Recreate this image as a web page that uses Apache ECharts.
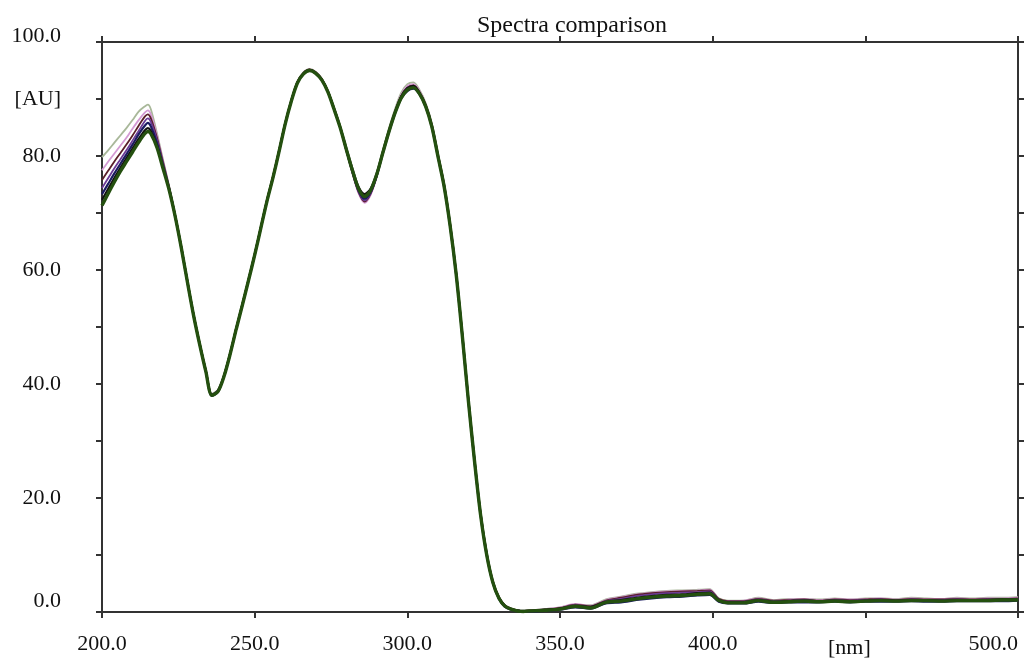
<!DOCTYPE html>
<html>
<head>
<meta charset="utf-8">
<script src="https://cdn.jsdelivr.net/npm/echarts@6/dist/echarts.min.js"></script>
<style>
html,body{margin:0;padding:0;background:#fff;}
#chart{width:1024px;height:659px;}
</style>
</head>
<body>
<div id="chart"></div>
<script>
// Wavelengths [nm]
const wavelengths = [200,202,204,206,208,210,212,214,215,216,218,220,222,
224,226,228,230,232,234,236,238,240,242,244,246,248,250,252,254,256,258,260,262,264,266,268,270,272,274,276,278,280,282,284,286,288,290,292,294,296,298,300,302,304,306,308,310,312,314,316,318,320,322,324,326,328,330,332,334,336,338,340,
345,350,355,360,365,370,375,380,385,390,395,399,402,405,410,415,420,425,430,435,440,445,450,455,460,465,470,475,480,485,490,495,500];

// Absorbance [AU] of each spectrum
const specGreen = [71.3,73.4,75.4,77.3,79.0,80.7,82.4,83.9,84.3,83.9,81.5,77.8,74.0,
69.3,63.8,57.8,52.0,46.9,42.2,38.0,38.7,41.4,45.3,49.7,53.9,58.2,62.6,67.3,72.0,76.2,80.8,85.6,89.6,92.8,94.4,95.0,94.5,93.3,91.2,88.2,85.0,81.2,77.5,74.3,72.9,74.0,76.8,80.6,84.3,87.6,90.2,91.6,92.0,90.9,88.7,85.2,80.0,74.8,67.8,59.2,48.5,37.0,26.5,17.0,10.0,5.2,2.4,1.0,0.5,0.2,0.1,0.2,
0.3,0.5,1.0,0.7,1.7,1.9,2.3,2.6,2.8,2.9,3.1,3.2,2.0,1.6,1.6,2.0,1.7,1.8,1.9,1.8,1.9,1.8,1.9,2.0,1.9,2.0,2.0,1.9,2.0,2.0,2.0,2.1,2.1];

const specBlack = [72.3,74.2,76.1,77.9,79.6,81.3,83.0,84.5,84.9,84.4,81.8,78.0,74.1,
69.4,63.9,57.9,52.1,47.0,42.3,38.1,38.8,41.5,45.4,49.8,54.0,58.3,62.7,67.4,72.1,76.3,80.9,85.7,89.7,92.9,94.5,95.1,94.6,93.4,91.3,88.3,85.1,81.4,77.8,74.6,73.3,74.3,77.0,80.8,84.5,87.8,90.5,91.9,92.3,91.1,88.9,85.4,80.2,75.0,68.0,59.4,48.7,37.2,26.7,17.2,10.2,5.3,2.5,1.1,0.5,0.3,0.2,0.2,
0.4,0.6,1.1,0.9,1.8,2.1,2.5,2.8,3.0,3.1,3.3,3.4,2.1,1.7,1.7,2.1,1.8,1.9,2.0,1.9,2.0,1.9,2.0,2.1,2.0,2.1,2.1,2.0,2.1,2.1,2.1,2.2,2.2];

const specNavy = [73.3,75.1,76.9,78.6,80.3,82.0,83.8,85.3,85.8,85.2,82.3,78.3,74.2,
69.3,63.8,57.8,52.0,46.9,42.2,37.9,38.6,41.4,45.3,49.7,53.9,58.2,62.6,67.3,72.0,76.2,80.8,85.6,89.6,92.8,94.4,95.0,94.5,93.3,91.2,88.2,85.0,81.1,77.3,74.0,72.5,73.7,76.6,80.5,84.2,87.5,90.1,91.4,91.8,90.8,88.6,85.1,79.9,74.7,67.7,59.1,48.4,36.9,26.4,16.9,9.9,5.1,2.3,0.9,0.4,0.2,0.1,0.1,
0.2,0.4,0.8,0.6,1.5,1.7,2.1,2.4,2.6,2.7,2.9,3.0,1.8,1.5,1.5,1.8,1.6,1.7,1.7,1.7,1.8,1.7,1.8,1.8,1.8,1.9,1.8,1.8,1.9,1.9,1.9,1.9,2.0];

const specPurple = [74.4,76.1,77.8,79.4,81.0,82.7,84.4,86.1,86.6,86.0,82.8,78.6,74.4,
69.4,63.9,57.9,52.1,47.0,42.3,38.2,38.9,41.5,45.4,49.8,54.0,58.3,62.7,67.4,72.1,76.3,80.9,85.7,89.7,92.9,94.5,95.1,94.6,93.4,91.3,88.3,85.0,81.0,77.2,73.8,72.2,73.5,76.5,80.5,84.3,87.7,90.4,91.9,92.2,91.0,88.8,85.3,80.1,74.9,67.9,59.3,48.6,37.1,26.6,17.1,10.1,5.2,2.4,1.0,0.5,0.3,0.1,0.2,
0.3,0.6,1.2,0.9,1.9,2.3,2.8,3.1,3.3,3.4,3.5,3.6,2.2,1.8,1.8,2.2,1.9,2.0,2.1,1.9,2.1,2.0,2.1,2.2,2.0,2.2,2.1,2.1,2.2,2.1,2.2,2.2,2.3];

const specMaroon = [75.8,77.4,79.0,80.5,82.0,83.6,85.3,86.9,87.3,86.6,83.2,78.9,74.5,
69.5,64.0,58.0,52.2,47.1,42.4,38.1,38.8,41.6,45.5,49.9,54.1,58.4,62.8,67.5,72.2,76.4,81.0,85.8,89.8,93.0,94.6,95.2,94.7,93.5,91.4,88.4,85.1,81.0,77.1,73.7,72.0,73.4,76.5,80.6,84.4,87.8,90.5,92.0,92.4,91.2,89.0,85.5,80.3,75.1,68.1,59.5,48.8,37.3,26.8,17.3,10.3,5.4,2.6,1.1,0.6,0.3,0.2,0.3,
0.4,0.7,1.3,1.0,2.0,2.5,3.0,3.3,3.5,3.6,3.7,3.8,2.3,1.9,1.9,2.3,2.0,2.1,2.2,2.0,2.2,2.1,2.2,2.3,2.1,2.3,2.2,2.2,2.3,2.2,2.3,2.3,2.4];

const specPink = [77.5,79.0,80.4,81.8,83.2,84.8,86.3,87.6,88.0,87.3,83.6,79.1,74.6,
69.5,64.0,58.0,52.2,47.1,42.4,38.2,38.9,41.6,45.5,49.9,54.1,58.4,62.8,67.5,72.2,76.4,81.0,85.8,89.8,93.0,94.6,95.2,94.7,93.5,91.4,88.4,85.0,80.9,77.0,73.5,71.8,73.2,76.4,80.6,84.5,88.0,90.8,92.3,92.6,91.4,89.1,85.6,80.4,75.2,68.2,59.6,48.9,37.4,26.9,17.4,10.4,5.5,2.6,1.2,0.6,0.3,0.2,0.3,
0.5,0.8,1.4,1.1,2.1,2.6,3.1,3.4,3.6,3.7,3.8,3.9,2.3,1.9,2.0,2.4,2.0,2.2,2.3,2.1,2.3,2.2,2.3,2.4,2.2,2.4,2.3,2.3,2.4,2.3,2.4,2.4,2.5];

const specLight = [79.8,81.0,82.3,83.6,84.9,86.3,87.8,88.7,89.0,88.2,84.0,79.3,74.7,
69.6,64.1,58.1,52.3,47.2,42.5,38.3,39.0,41.7,45.6,50.0,54.2,58.5,62.9,67.6,72.3,76.5,81.1,85.9,89.9,93.1,94.7,95.3,94.8,93.6,91.5,88.5,85.2,81.2,77.4,73.9,72.3,73.6,76.8,81.0,84.9,88.3,91.1,92.6,92.9,91.6,89.3,85.8,80.6,75.4,68.4,59.8,49.1,37.6,27.1,17.6,10.6,5.6,2.7,1.2,0.6,0.3,0.2,0.3,
0.5,0.8,1.3,1.2,2.2,2.7,3.2,3.5,3.7,3.8,3.9,4.0,2.4,2.0,2.0,2.5,2.1,2.3,2.3,2.2,2.4,2.2,2.4,2.4,2.3,2.5,2.4,2.3,2.5,2.4,2.5,2.5,2.6];

// Tick labels
const xTickValues = [200,250,300,350,400,450,500];
const xTickLabels = ['200.0','250.0','300.0','350.0','400.0','[nm]','500.0'];
const yTickValues = [0,20,40,60,80,90,100];
const yTickLabels = ['0.0','20.0','40.0','60.0','80.0','[AU]','100.0'];
const chartTitle = 'Spectra comparison';

const spectra = [
  {name:'s7', values:specLight,  color:'#a9b89a', width:1.8},
  {name:'s6', values:specPink,   color:'#d49ad4', width:1.8},
  {name:'s5', values:specMaroon, color:'#5a1f2a', width:1.8},
  {name:'s4', values:specPurple, color:'#6b3a96', width:1.8},
  {name:'s3', values:specNavy,   color:'#1b1b60', width:2.2},
  {name:'s2', values:specBlack,  color:'#111111', width:2.2},
  {name:'s1', values:specGreen,  color:'#24500f', width:3.4}
];

const FONT = '"Liberation Serif", "Times New Roman", serif';
const axisLine = {show:true, onZero:false, lineStyle:{color:'#333', width:2}};
const axisTick = {show:true, inside:false, length:6, lineStyle:{color:'#333', width:2}};

const chart = echarts.init(document.getElementById('chart'), null, {renderer:'canvas'});
chart.setOption({
  animation:false,
  backgroundColor:'#fff',
  title:{
    text:chartTitle, left:472, top:9,
    textStyle:{fontFamily:FONT, fontSize:24, fontWeight:'normal', color:'#111'}
  },
  grid:{left:102, right:6, top:42, bottom:47, containLabel:false},
  xAxis:[
    {type:'value', position:'bottom', min:200, max:500, interval:50,
     axisLine:axisLine, axisTick:axisTick, splitLine:{show:false},
     axisLabel:{
       margin:21, color:'#111', fontFamily:FONT, fontSize:22,
       alignMaxLabel:'right',
       formatter:function(v){
         const i = xTickValues.indexOf(v);
         if (i < 0) return '';
         const t = xTickLabels[i];
         return t === '[nm]' ? '{u|' + t + '}' : t;
       },
       rich:{u:{fontFamily:FONT, fontSize:22, color:'#111', padding:[4,32,0,0]}}
     }},
    {type:'value', position:'top', min:200, max:500, interval:50,
     axisLine:axisLine, axisTick:axisTick, splitLine:{show:false},
     axisLabel:{show:false}}
  ],
  yAxis:[
    {type:'value', position:'left', min:0, max:100, interval:10,
     axisLine:axisLine, axisTick:axisTick, splitLine:{show:false},
     axisLabel:{
       margin:41, color:'#111', fontFamily:FONT, fontSize:22,
       verticalAlignMinLabel:'bottom', verticalAlignMaxLabel:'middle',
       formatter:function(v){
         const i = yTickValues.indexOf(v);
         if (i < 0) return '';
         return v === 100 ? '{t|' + yTickLabels[i] + '}' : yTickLabels[i];
       },
       rich:{t:{fontFamily:FONT, fontSize:22, color:'#111', padding:[0,0,12,0]}}
     }},
    {type:'value', position:'right', min:0, max:100, interval:10,
     axisLine:axisLine, axisTick:axisTick, splitLine:{show:false},
     axisLabel:{show:false}}
  ],
  series: spectra.map(function(s){
    return {
      name:s.name, type:'line', xAxisIndex:0, yAxisIndex:0,
      data: wavelengths.map(function(w, i){ return [w, s.values[i]]; }),
      showSymbol:false, smooth:0.3, silent:true,
      lineStyle:{color:s.color, width:s.width}
    };
  })
});
</script>
</body>
</html>
